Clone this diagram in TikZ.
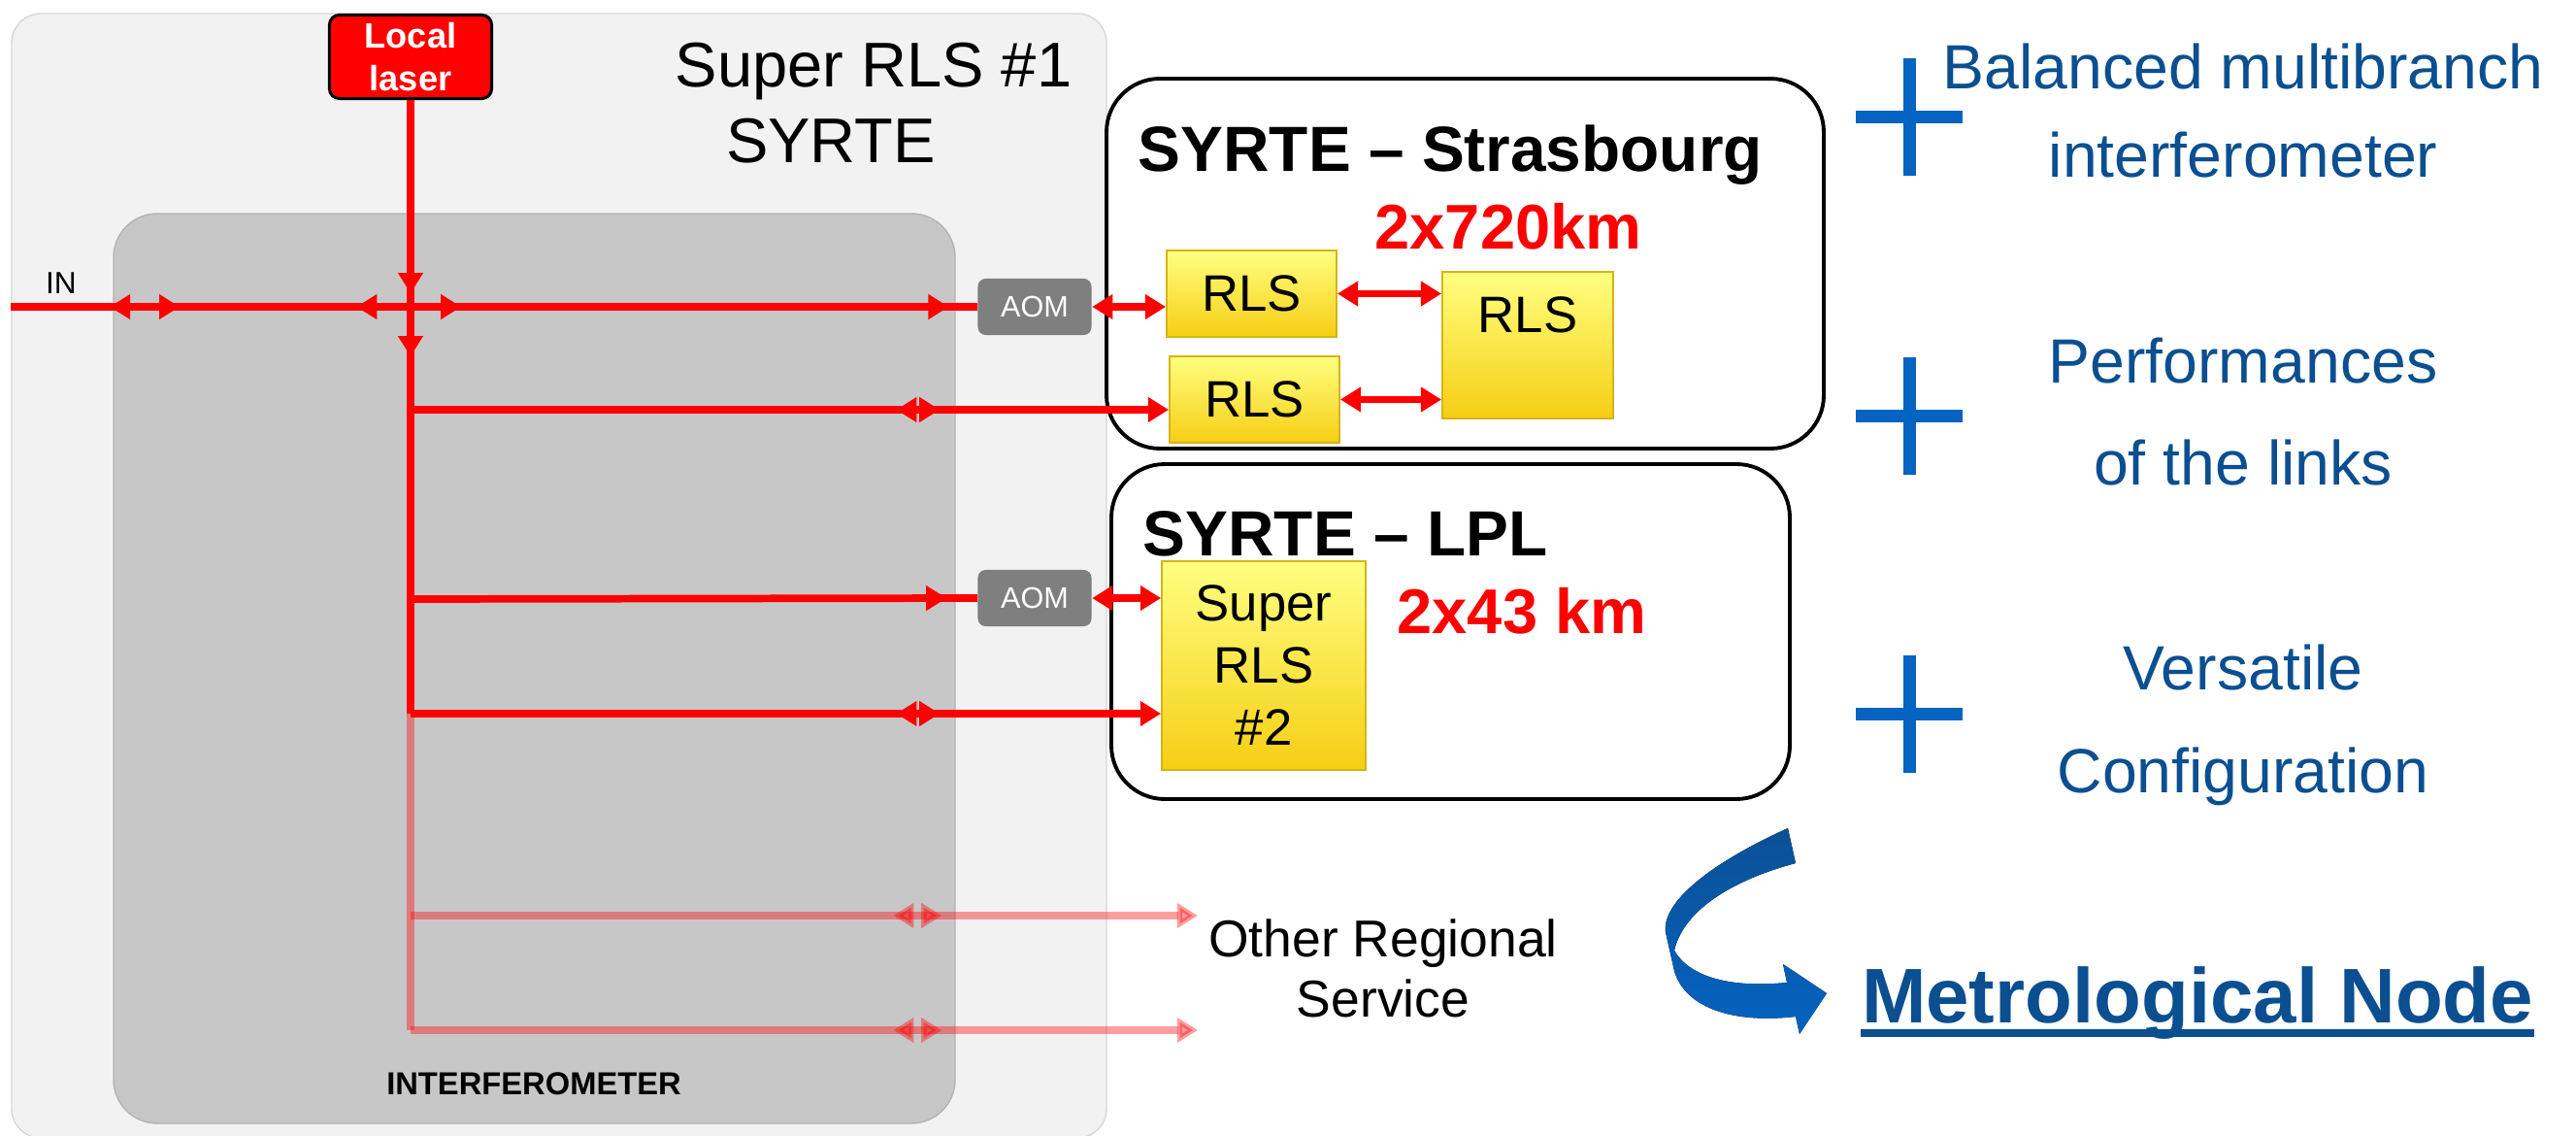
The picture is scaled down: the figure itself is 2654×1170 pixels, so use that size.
\documentclass[tikz,border=0pt]{standalone}
\usepackage{fontspec}
\setmainfont{Liberation Sans}
\usepackage{xcolor}
\usetikzlibrary{arrows.meta,decorations.markings}

\definecolor{rouge}{RGB}{255,0,0}
\definecolor{fondclair}{RGB}{242,242,242}
\definecolor{bordclair}{RGB}{215,215,215}
\definecolor{fondgris}{RGB}{199,199,199}
\definecolor{bordgris}{RGB}{180,180,180}
\definecolor{aomgris}{RGB}{127,127,127}
\definecolor{rlshaut}{RGB}{255,255,128}
\definecolor{rlsbas}{RGB}{246,206,20}
\definecolor{rlsbord}{RGB}{214,180,20}
\definecolor{bleutexte}{RGB}{11,79,145}
\definecolor{bleuplus}{RGB}{5,99,193}
\definecolor{bleufonce}{RGB}{11,80,150}

\begin{document}
\begin{tikzpicture}[x=0.01cm,y=-0.01cm,
    >={Triangle[length=6pt,width=7pt]},
    beam/.style={color=rouge,line width=2.2pt},
    faded/.style={beam,opacity=0.38},
    fwd/.style={postaction={decorate,decoration={markings,mark=at position #1 with {\arrow{>}}}}},
    bwd/.style={postaction={decorate,decoration={markings,mark=at position #1 with {\arrowreversed{>}}}}},
    laser/.style={draw=black,line width=0.85pt,fill=rouge,text=white,rounded corners=0.1cm,
      minimum width=1.67cm,minimum height=0.86cm,inner sep=0,align=center,
      font=\fontsize{10.3}{12.5}\selectfont\bfseries},
    aom/.style={fill=aomgris,text=white,rounded corners=0.08cm,minimum width=1.17cm,
      minimum height=0.58cm,inner sep=0,font=\fontsize{8.7}{10}\selectfont},
    rls/.style={draw=rlsbord,line width=0.5pt,top color=rlshaut,bottom color=rlsbas,
      inner sep=0,align=center,font=\fontsize{15}{18.2}\selectfont},
    linkbox/.style={draw=black,line width=1.1pt,fill=white,rounded corners=0.55cm},
    head/.style={inner sep=0,font=\fontsize{18.7}{22}\selectfont\bfseries},
    dist/.style={inner sep=0,text=rouge,font=\fontsize{18.5}{22}\selectfont\bfseries},
    bluetxt/.style={inner sep=0,text=bleutexte,align=center},
  ]
    \useasboundingbox (0,0) rectangle (2654,1170);

    % Super RLS #1
    \draw[fill=fondclair,draw=bordclair,rounded corners=0.3cm] (12,14) rectangle (1140,1172);
    \draw[fill=fondgris,draw=bordgris,rounded corners=0.45cm] (117,220) rectangle (984,1157);
    \node[anchor=base,inner sep=0,font=\fontsize{18.5}{22}\selectfont] (titre) at (900,90) {Super RLS \#1};
    \node[anchor=base,inner sep=0,font=\fontsize{18.5}{22}\selectfont] (site) at (856,168) {SYRTE};
    \node[laser] (laser) at (423,58.5) {Local\\laser};
    \node[anchor=base,inner sep=0,font=\fontsize{9}{10}\selectfont] (inlab) at (63,302) {IN};
    \node[anchor=base,inner sep=0,font=\fontsize{9.3}{10}\selectfont\bfseries] (interf) at (550,1127) {INTERFEROMETER};

    % liens
    \draw[linkbox] (1140,81) rectangle (1879,462);
    \draw[linkbox] (1145,478) rectangle (1844,823);
    \node[head,anchor=base west] (tstras) at (1172,177) {SYRTE -- Strasbourg};
    \node[dist,anchor=base] (dstras) at (1554,257) {2x720km};
    \node[head,anchor=base west] (tlpl) at (1177,572) {SYRTE -- LPL};
    \node[dist,anchor=base] (dlpl) at (1568,652) {2x43 km};

    \node[aom] (aomA) at (1066,316) {AOM};
    \node[aom] (aomB) at (1066,616) {AOM};
    \node[rls,minimum width=1.75cm,minimum height=0.89cm] (rlsA) at (1289.5,302.5) {RLS};
    \node[rls,minimum width=1.75cm,minimum height=0.89cm] (rlsB) at (1292.5,411.5) {RLS};
    \node[rls,minimum width=1.76cm,minimum height=1.51cm,text depth=18pt] (rlsC) at (1574,355.5) {RLS};
    \node[rls,minimum width=2.1cm,minimum height=2.15cm] (srls) at (1302,685.5) {Super\\RLS\\\#2};

    % faisceaux
    \coordinate (in) at (11,316);
    \foreach \n/\y in {b1/422,b2/617,b3/735,b4/943,b5/1061}
      \coordinate (\n) at (423,\y);
    \coordinate (o1) at (1234,943);
    \coordinate (o2) at (1234,1061);

    \draw[beam,bwd=1.02cm,fwd=1.74cm,bwd=3.56cm,fwd=4.64cm,fwd=9.66cm] (in) -- (aomA.west);
    \draw[beam,fwd=1.99cm,fwd=2.64cm] (laser.south) -- (b3);
    \draw[faded] (b3) -- (b5);
    \draw[beam,->,bwd=5cm,fwd=5.45cm] (b1) -- (b1 -| rlsB.west);
    \draw[beam,fwd=5.52cm] (b2) -- (aomB.west);
    \draw[beam,->,bwd=5cm,fwd=5.45cm] (b3) -- (b3 -| srls.west);
    \foreach \b/\o in {b4/o1,b5/o2}
      \draw[faded,->,bwd=4.97cm,fwd=5.47cm] (\b) -- (\o);

    \draw[beam,<->] (aomA.east) -- (aomA.east -| rlsA.west);
    \draw[beam,<->] (rlsA.east) -- (rlsA.east -| rlsC.west);
    \draw[beam,<->] (rlsB.east) -- (rlsB.east -| rlsC.west);
    \draw[beam,<->] (aomB.east) -- (aomB.east -| srls.west);

    \node[align=center,inner sep=0,font=\fontsize{15.2}{17.6}\selectfont] (service) at (1425,997.5) {Other Regional\\Service};

    % avantages
    \foreach \y in {121,428,735} {
      \fill[bleuplus] (1912,\y-6.5) rectangle (2022,\y+6.5);
      \fill[bleuplus] (1961,\y-60.5) rectangle (1974,\y+60.5);
    }
    \node[bluetxt,font=\fontsize{18.3}{25.9}\selectfont] (balanced) at (2311,114) {Balanced multibranch\\interferometer};
    \node[bluetxt,font=\fontsize{18.3}{29.9}\selectfont] (perf) at (2311,424) {Performances\\of the links};
    \node[bluetxt,font=\fontsize{18.3}{30.2}\selectfont] (versatile) at (2311,747) {Versatile\\Configuration};

    % fleche courbe
    \fill[top color=bleufonce,bottom color=bleuplus] (1842,853) .. controls (1760,890) and (1712,930) .. (1716,960)
      -- (1725,1000) .. controls (1735,1035) and (1780,1055) .. (1850,1047) -- (1854,1065) -- (1882,1023)
      -- (1837,993) -- (1841,1012) .. controls (1780,1018) and (1740,1005) .. (1725,979)
      .. controls (1735,935) and (1790,905) .. (1850,889) -- cycle;
    \node[anchor=base,inner sep=0,text=bleutexte,font=\fontsize{22.7}{26}\selectfont\bfseries] (metro) at (2264,1053) {Metrological Node};
    \draw[bleutexte,line width=2.3pt] ([yshift=-3.1pt]metro.base west) -- ([yshift=-3.1pt]metro.base east);
\end{tikzpicture}
\end{document}
